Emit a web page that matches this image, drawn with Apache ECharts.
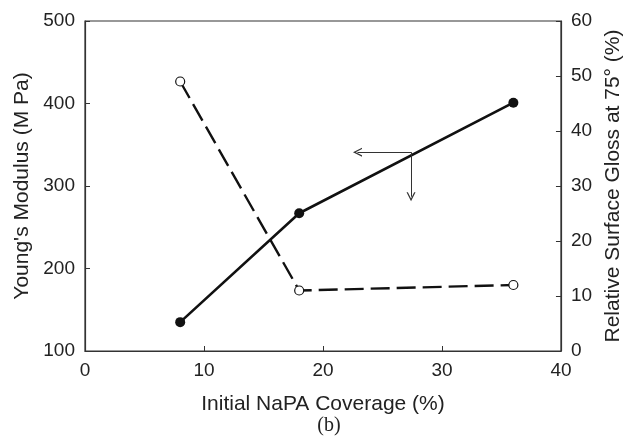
<!DOCTYPE html>
<html>
<head>
<meta charset="utf-8">
<script src="https://cdn.jsdelivr.net/npm/echarts@6/dist/echarts.min.js"></script>
<style>
  html, body { margin: 0; padding: 0; background: #fff; }
  #chart { width: 632px; height: 436px; }
</style>
</head>
<body>
<div id="chart"></div>
<script>
// data
var coverage = [8, 18, 36];          // Initial NaPA Coverage (%)
var modulus = [135, 267, 401];       // Young's Modulus (M Pa), left axis
var gloss = [49, 11, 12];            // Relative Surface Gloss at 75° (%), right axis
// arrow annotation, in data units of the left axis
var arrowFrom = [27.4, 341];
var arrowLeftTo = [22.9, 341];
var arrowDownTo = [27.4, 287];

var font = 'Liberation Sans, Arial, sans-serif';
// open "V" arrow head pointing up (the library rotates it along the line)
var chevron = 'path://M10,0 L20,12 L17,12 L10,3.6 L3,12 L0,12 Z';

var myChart = echarts.init(document.getElementById('chart'), null, {renderer: 'canvas'});

var axisCommon = {
    axisLine: {show: true, lineStyle: {color: '#333', width: 1.2}},
    axisTick: {show: true, inside: true, length: 5, lineStyle: {color: '#333'}},
    axisLabel: {color: '#222', fontSize: 19, fontFamily: font, margin: 10},
    splitLine: {show: false},
    nameTextStyle: {color: '#222', fontSize: 21, fontFamily: font}
};

var option = {
    backgroundColor: '#fff',
    animation: false,
    title: {
        text: '(b)',
        left: 324,
        top: 411,
        textAlign: 'center',
        textStyle: {fontFamily: 'Liberation Serif, Times New Roman, serif', fontSize: 20, fontWeight: 'normal', color: '#222'}
    },
    grid: {left: 85, right: 69, top: 21, bottom: 85, show: true, borderColor: '#333', borderWidth: 1.2},
    xAxis: Object.assign({}, axisCommon, {
        type: 'value',
        min: 0, max: 40, interval: 10,
        name: 'Initial NaPA Coverage (%)',
        nameLocation: 'middle',
        nameGap: 43
    }),
    yAxis: [
        Object.assign({}, axisCommon, {
            type: 'value',
            position: 'left',
            min: 100, max: 500, interval: 100,
            name: "Young's Modulus (M Pa)",
            nameLocation: 'middle',
            nameRotate: 90,
            nameGap: 52
        }),
        Object.assign({}, axisCommon, {
            type: 'value',
            position: 'right',
            min: 0, max: 60, interval: 10,
            name: 'Relative Surface Gloss at 75° (%)',
            nameLocation: 'middle',
            nameRotate: 90,
            nameGap: 40
        })
    ],
    series: [
        {
            name: 'modulus',
            type: 'line',
            yAxisIndex: 0,
            data: coverage.map(function (c, i) { return [c, modulus[i]]; }),
            symbol: 'circle',
            symbolSize: 10,
            lineStyle: {color: '#111', width: 2.6},
            itemStyle: {color: '#111'},
            z: 3,
            markLine: {
                silent: true,
                symbol: ['none', chevron],
                symbolSize: [9, 9],
                label: {show: false},
                lineStyle: {color: '#333', width: 1, type: 'solid'},
                data: [
                    [{coord: arrowFrom}, {coord: arrowLeftTo}],
                    [{coord: arrowFrom}, {coord: arrowDownTo}]
                ]
            }
        },
        {
            name: 'gloss',
            type: 'line',
            yAxisIndex: 1,
            data: coverage.map(function (c, i) { return [c, gloss[i]]; }),
            symbol: 'circle',
            symbolSize: 9,
            showAllSymbol: true,
            lineStyle: {color: '#111', width: 2.4, type: [19, 7]},
            itemStyle: {color: '#fff', borderColor: '#111', borderWidth: 1.2},
            z: 2
        }
    ]
};

myChart.setOption(option);
</script>
</body>
</html>
